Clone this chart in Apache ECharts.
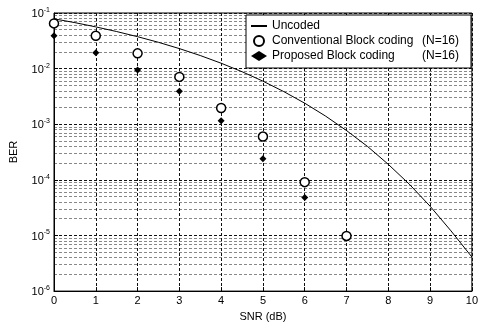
<!DOCTYPE html>
<html>
<head>
<meta charset="utf-8">
<script src="https://cdn.jsdelivr.net/npm/echarts@6/dist/echarts.min.js"></script>
<style>
  html, body { margin: 0; padding: 0; background: #fff; }
  #chart { width: 481px; height: 327px; }
</style>
</head>
<body>
<div id="chart"></div>
<script>
// BER vs SNR, uncoded / conventional / proposed block coding
const snrCurve = [0, 0.5, 1, 1.5, 2, 2.5, 3, 3.5, 4, 4.5, 5, 5.5, 6, 6.5, 7, 7.5, 8, 8.5, 9, 9.5, 10];
const uncodedBer = [0.0786, 0.0671, 0.0563, 0.0464, 0.0375, 0.0297, 0.0229, 0.0172, 0.0125, 0.0088,
    0.00595, 0.00386, 0.00239, 0.0014, 0.00077, 0.0004, 0.00019, 0.000084, 0.0000336, 0.0000121, 0.0000041];
const snrConv = [0, 1, 2, 3, 4, 5, 6, 7];
const convBer = [0.065, 0.039, 0.0188, 0.0071, 0.00196, 0.0006, 0.000091, 0.0000098];
const snrProp = [0, 1, 2, 3, 4, 5, 6];
const propBer = [0.039, 0.0193, 0.0094, 0.0039, 0.00115, 0.00024, 0.000048];
const xTicks = [0, 1, 2, 3, 4, 5, 6, 7, 8, 9, 10];

const FONT = 'Liberation Sans';
const gridLine = { color: '#111', width: 1, type: [3, 2] };

// minor grid lines of the log axis (2..9 of each decade)
const minorLines = [];
for (let d = -6; d <= -2; d++) {
    for (let m = 2; m <= 9; m++) {
        const v = m * Math.pow(10, d);
        minorLines.push({ coords: [[0, v], [10, v]] });
    }
}

const chart = echarts.init(document.getElementById('chart'));
const option = {
    animation: false,
    backgroundColor: '#fff',
    textStyle: { fontFamily: FONT, color: '#000' },
    grid: {
        left: 53, right: 4, top: 13, bottom: 32,
        show: true, borderColor: '#000', borderWidth: 1, backgroundColor: 'transparent'
    },
    legend: {
        orient: 'vertical',
        left: 246,
        top: 15,
        z: 20,
        padding: [5, 12, 6, 4],
        itemWidth: 16,
        itemHeight: 10,
        itemGap: 3,
        backgroundColor: '#fff',
        borderColor: '#000',
        borderWidth: 1,
        borderRadius: 0,
        textStyle: {
            fontFamily: FONT, fontSize: 12, color: '#000',
            rich: {
                a: { fontFamily: FONT, fontSize: 12, color: '#000', width: 150 },
                b: { fontFamily: FONT, fontSize: 12, color: '#000' }
            }
        },
        formatter: name => {
            const k = name.indexOf('(N=');
            return k < 0 ? name : '{a|' + name.slice(0, k).trim() + '}{b|' + name.slice(k) + '}';
        },
        data: [
            { name: 'Uncoded', itemStyle: { opacity: 0 } },
            { name: 'Conventional Block coding (N=16)' },
            { name: 'Proposed Block coding (N=16)' }
        ]
    },
    xAxis: {
        type: 'value',
        min: 0,
        max: 10,
        interval: 1,
        name: 'SNR (dB)',
        nameLocation: 'middle',
        nameGap: 17,
        nameTextStyle: { fontFamily: FONT, fontSize: 11, color: '#000' },
        axisLine: { show: true, lineStyle: { color: '#000' } },
        axisTick: { show: true, inside: true, length: 4, lineStyle: { color: '#000' } },
        axisLabel: {
            fontFamily: FONT, fontSize: 11, color: '#000', margin: 4,
            formatter: v => xTicks.indexOf(v) >= 0 ? String(v) : ''
        },
        splitLine: { show: true, lineStyle: gridLine }
    },
    yAxis: {
        type: 'log',
        logBase: 10,
        min: 1e-6,
        max: 1e-1,
        name: 'BER',
        nameLocation: 'middle',
        nameGap: 35,
        nameRotate: 90,
        nameTextStyle: { fontFamily: FONT, fontSize: 11, color: '#000' },
        axisLine: { show: true, lineStyle: { color: '#000' } },
        axisTick: { show: true, inside: true, length: 4, lineStyle: { color: '#000' } },
        axisLabel: {
            margin: 4,
            formatter: v => '{b|10}{s|' + Math.round(Math.log10(v)) + '}',
            rich: {
                b: { fontFamily: FONT, fontSize: 11, color: '#000', verticalAlign: 'bottom' },
                s: { fontFamily: FONT, fontSize: 7, color: '#000', verticalAlign: 'top', padding: [0, 0, 6, 0] }
            }
        },
        splitLine: { show: true, lineStyle: gridLine }
    },
    series: [
        {
            name: 'minor grid',
            type: 'lines',
            coordinateSystem: 'cartesian2d',
            silent: true,
            polyline: false,
            data: minorLines,
            lineStyle: gridLine,
            z: 1
        },
        {
            name: 'Uncoded',
            type: 'line',
            data: snrCurve.map((x, i) => [x, uncodedBer[i]]),
            symbol: 'none',
            lineStyle: { color: '#000', width: 1 },
            itemStyle: { color: '#000' },
            z: 3
        },
        {
            name: 'Conventional Block coding (N=16)',
            type: 'scatter',
            data: snrConv.map((x, i) => [x, convBer[i]]),
            symbol: 'circle',
            symbolSize: 9,
            itemStyle: { color: '#fff', borderColor: '#000', borderWidth: 1.5, opacity: 1 },
            z: 4
        },
        {
            name: 'Proposed Block coding (N=16)',
            type: 'scatter',
            data: snrProp.map((x, i) => [x, propBer[i]]),
            symbol: 'diamond',
            symbolSize: 7,
            itemStyle: { color: '#000', opacity: 1 },
            z: 4
        }
    ]
};
chart.setOption(option);
</script>
</body>
</html>
